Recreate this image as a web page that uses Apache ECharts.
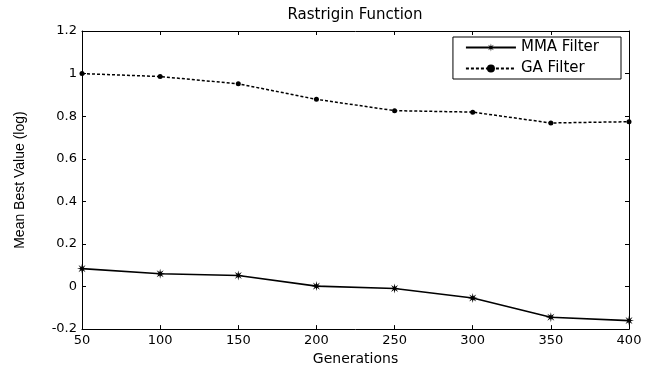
<!DOCTYPE html>
<html>
<head>
<meta charset="utf-8">
<script src="https://cdn.jsdelivr.net/npm/echarts@6/dist/echarts.min.js"></script>
<style>
html,body{margin:0;padding:0;background:#fff;}
#chart{width:656px;height:371px;}
</style>
</head>
<body>
<div id="chart"></div>
<script>
var generations = [50, 100, 150, 200, 250, 300, 350, 400];
var mmaFilter = [0.084, 0.060, 0.052, 0.002, -0.009, -0.054, -0.144, -0.160];
var gaFilter = [1.0, 0.986, 0.952, 0.879, 0.826, 0.819, 0.768, 0.774];
var xTicks = [50, 100, 150, 200, 250, 300, 350, 400];
var yTicks = [-0.2, 0, 0.2, 0.4, 0.6, 0.8, 1, 1.2];
var titleText = 'Rastrigin Function';
var xName = 'Generations';
var yName = 'Mean Best Value (log)';
var seriesNames = ['MMA Filter', 'GA Filter'];

var FONT = 'DejaVu Sans';
var starPath = 'path://M5,0L5.69,3.34L8.54,1.46L6.66,4.31L10,5L6.66,5.69L8.54,8.54L5.69,6.66L5,10L4.31,6.66L1.46,8.54L3.34,5.69L0,5L3.34,4.31L1.46,1.46L4.31,3.34Z';

function pairs(xs, ys) { return xs.map(function (x, i) { return [x, ys[i]]; }); }
function yFmt(v) { var r = Math.round(v * 10) / 10; return String(r === 0 ? 0 : r); }

var axisLineStyle = { onZero: false, lineStyle: { color: '#000', width: 1 } };
var tickIn = { inside: true, length: 4, lineStyle: { color: '#000', width: 1 } };

var chart = echarts.init(document.getElementById('chart'), null, { renderer: 'canvas' });
chart.setOption({
  backgroundColor: '#fff',
  animation: false,
  title: {
    text: titleText,
    left: 355, top: 8, textAlign: 'center', padding: 0,
    textStyle: { fontFamily: FONT, fontSize: 15, fontWeight: 'normal', color: '#000' }
  },
  grid: { left: 82, right: 27, top: 31, bottom: 37, containLabel: false },
  legend: {
    orient: 'vertical', right: 35, top: 37,
    padding: [3, 22, 3, 12], itemGap: 6, itemWidth: 50, itemHeight: 10,
    backgroundColor: '#fff', borderColor: '#000', borderWidth: 1, borderRadius: 0,
    textStyle: { fontFamily: FONT, fontSize: 15, color: '#000' },
    data: seriesNames
  },
  xAxis: [{
    type: 'value', min: xTicks[0], max: xTicks[xTicks.length - 1], interval: 50,
    name: xName, nameLocation: 'middle', nameGap: 20,
    nameTextStyle: { fontFamily: FONT, fontSize: 14, color: '#000' },
    axisLine: axisLineStyle, axisTick: tickIn, splitLine: { show: false },
    axisLabel: { fontFamily: FONT, fontSize: 13, color: '#000', margin: 5 }
  }, {
    type: 'value', position: 'top', min: xTicks[0], max: xTicks[xTicks.length - 1], interval: 50,
    axisLine: axisLineStyle, axisTick: tickIn, splitLine: { show: false }, axisLabel: { show: false }
  }],
  yAxis: [{
    type: 'value', min: yTicks[0], max: yTicks[yTicks.length - 1], interval: 0.2,
    name: yName, nameLocation: 'middle', nameGap: 55,
    nameTextStyle: { fontFamily: 'Liberation Sans', fontSize: 14, color: '#000' },
    axisLine: axisLineStyle, axisTick: tickIn, splitLine: { show: false },
    axisLabel: { fontFamily: FONT, fontSize: 13, color: '#000', margin: 5, formatter: yFmt }
  }, {
    type: 'value', position: 'right', min: yTicks[0], max: yTicks[yTicks.length - 1], interval: 0.2,
    axisLine: axisLineStyle, axisTick: tickIn, splitLine: { show: false }, axisLabel: { show: false }
  }],
  series: [{
    name: seriesNames[0], type: 'line', data: pairs(generations, mmaFilter),
    symbol: starPath, symbolSize: 10,
    lineStyle: { color: '#000', width: 1.6, type: 'solid' },
    itemStyle: { color: '#000' }
  }, {
    name: seriesNames[1], type: 'line', data: pairs(generations, gaFilter),
    symbol: 'circle', symbolSize: 5,
    lineStyle: { color: '#000', width: 1.5, type: [3, 2] },
    itemStyle: { color: '#000' }
  }]
});
</script>
</body>
</html>
